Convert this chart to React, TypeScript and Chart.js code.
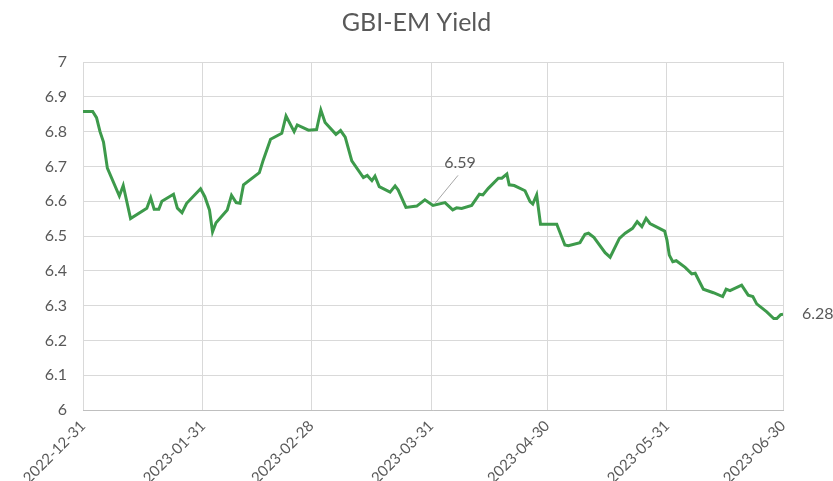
import React, { useEffect, useRef } from "react";
import { Chart, registerables } from "chart.js";

Chart.register(...registerables);

const TITLE = "GBI-EM Yield";
// days since 2022-12-31
const days = [
  0, 2.5, 3.5, 4.4, 5.3, 6.3, 9.4, 10.4, 12.3, 16.5, 17.5, 18.4, 19.6, 20.4, 23.4, 24.4, 25.6, 26.8,
  30.4, 31.5, 32.7, 33.5, 34.4, 37.3, 38.4, 39.6, 40.6, 41.5, 45.6, 46.6, 48.5, 51.4, 52.5, 54.6,
  55.4, 58.3, 60.4, 61.5, 62.6, 65.4, 66.6, 67.8, 69.5, 72.5, 73.5, 74.7, 75.5, 76.6, 79.4, 80.7,
  81.5, 83.5, 86.3, 88.4, 90.5, 93.6, 95.6, 96.6, 97.9, 100.5, 102.5, 103.4, 104.8, 107.4, 108.3,
  109.6, 110.2, 111.5, 114.3, 115.6, 116.3, 117.3, 118.3, 122.5, 124.6, 125.5, 128.5, 129.8, 130.7,
  132.1, 135, 136.3, 138.7, 140.2, 142.1, 143.3, 144.5, 145.6, 146.6, 150.4, 151.0, 151.6, 152.5,
  153.4, 155.7, 157.4, 158.3, 160.4, 163, 165.4, 166.3, 167.3, 170.3, 172, 173.2, 174.2, 176.8,
  178.6, 179.4, 180.4, 181,
];
const yields = [
  6.858, 6.858, 6.84, 6.8, 6.77, 6.695, 6.615, 6.645, 6.55, 6.58, 6.61, 6.577, 6.577, 6.6, 6.62, 6.58, 6.567, 6.594,
  6.636, 6.613, 6.575, 6.512, 6.538, 6.575, 6.617, 6.596, 6.594, 6.647, 6.682, 6.718, 6.778, 6.795, 6.845, 6.8,
  6.819, 6.804, 6.806, 6.862, 6.826, 6.792, 6.803, 6.784, 6.716, 6.668, 6.674, 6.659, 6.672, 6.642, 6.626, 6.644,
  6.632, 6.582, 6.586, 6.604, 6.588, 6.596, 6.575, 6.581, 6.579, 6.588, 6.62, 6.618, 6.637, 6.666, 6.666,
  6.678, 6.647, 6.645, 6.63, 6.599, 6.592, 6.618, 6.534, 6.534, 6.474, 6.472, 6.481, 6.505, 6.508,
  6.496, 6.452, 6.439, 6.493, 6.508, 6.522, 6.541, 6.527, 6.551, 6.536, 6.514, 6.488, 6.445, 6.426,
  6.429, 6.41, 6.391, 6.393, 6.347, 6.337, 6.326, 6.347, 6.343, 6.359, 6.33, 6.326, 6.305, 6.282,
  6.263, 6.263, 6.274, 6.275,
];
const tickDays = [0, 31, 59, 90, 120, 151, 181];
const tickLabels = ["2022-12-31", "2023-01-31", "2023-02-28", "2023-03-31", "2023-04-30", "2023-05-31", "2023-06-30"];
const yMin = 6;
const yMax = 7;
const yStep = 0.1;
const annotations = [
  { day: 90.5, value: 6.588, text: "6.59", kind: "callout" },
  { day: 181, value: 6.275, text: "6.28", kind: "end" },
];

const FONT = "Lato, 'Open Sans', sans-serif";
const TEXT = "#595959";

const annotationPlugin = {
  id: "annot",
  afterDatasetsDraw(chart: any) {
    const ctx = chart.ctx;
    const xs = chart.scales.x;
    const ys = chart.scales.y;
    ctx.save();
    ctx.font = `16px ${FONT}`;
    ctx.fillStyle = TEXT;
    for (const a of annotations) {
      const px = xs.getPixelForValue(a.day);
      const py = ys.getPixelForValue(a.value);
      if (a.kind === "callout") {
        ctx.strokeStyle = "#a6a6a6";
        ctx.lineWidth = 1;
        ctx.beginPath();
        ctx.moveTo(px + 2, py - 2);
        ctx.lineTo(px + 25, py - 30);
        ctx.stroke();
        ctx.textAlign = "center";
        ctx.textBaseline = "middle";
        ctx.fillText(a.text, px + 27, py - 43);
      } else {
        ctx.textAlign = "left";
        ctx.textBaseline = "middle";
        ctx.fillText(a.text, px + 19, py);
      }
    }
    ctx.restore();
  },
};

export default function App() {
  const ref = useRef<HTMLCanvasElement>(null);
  useEffect(() => {
    document.body.style.margin = "0";
    const chart = new Chart(ref.current!, {
      type: "line",
      data: {
        datasets: [
          {
            data: days.map((d, i) => ({ x: d, y: yields[i] })),
            borderColor: "#3d9a4b",
            borderWidth: 3,
            pointRadius: 0,
            tension: 0,
            fill: false,
            yAxisID: "y",
          },
        ],
      },
      options: {
        animation: false,
        responsive: false,
        maintainAspectRatio: false,
        layout: { padding: 0 },
        plugins: {
          legend: { display: false },
          tooltip: { enabled: false },
          title: {
            display: true,
            text: TITLE,
            color: TEXT,
            font: { family: FONT, size: 25, weight: "normal" },
            padding: { top: 8, bottom: 24 },
          },
        },
        scales: {
          x: {
            type: "linear",
            min: 0,
            max: 181,
            afterBuildTicks: (s: any) => {
              s.ticks = tickDays.map((v) => ({ value: v }));
            },
            afterFit: (s: any) => {
              s.height = 71;
              s.paddingLeft = 0;
              s.paddingRight = 0;
            },
            ticks: {
              autoSkip: false,
              maxRotation: 45,
              minRotation: 45,
              color: TEXT,
              font: { family: FONT, size: 15 },
              padding: 7,
              callback: (v: any) => {
                const i = tickDays.indexOf(Number(v));
                return i >= 0 ? tickLabels[i] : "";
              },
            },
            grid: { color: "#d9d9d9", lineWidth: 1, drawTicks: false },
            border: { color: "#bfbfbf", width: 1 },
          },
          y: {
            min: yMin,
            max: yMax,
            afterFit: (s: any) => {
              s.width = 83;
            },
            ticks: {
              stepSize: yStep,
              color: TEXT,
              font: { family: FONT, size: 16 },
              padding: 16,
              callback: (v: any) => String(Math.round(Number(v) * 10) / 10),
            },
            grid: { color: "#d9d9d9", lineWidth: 1, drawTicks: false },
            border: { display: false },
          },
          yRight: {
            position: "right",
            min: yMin,
            max: yMax,
            afterFit: (s: any) => {
              s.width = 50;
            },
            ticks: { display: false },
            grid: { display: false, drawTicks: false },
            border: { display: false },
          },
        },
      },
      plugins: [annotationPlugin],
    } as any);
    return () => chart.destroy();
  }, []);
  return (
    <div style={{ width: 833, height: 481, background: "#fff" }}>
      <canvas ref={ref} width={833} height={481} />
    </div>
  );
}
